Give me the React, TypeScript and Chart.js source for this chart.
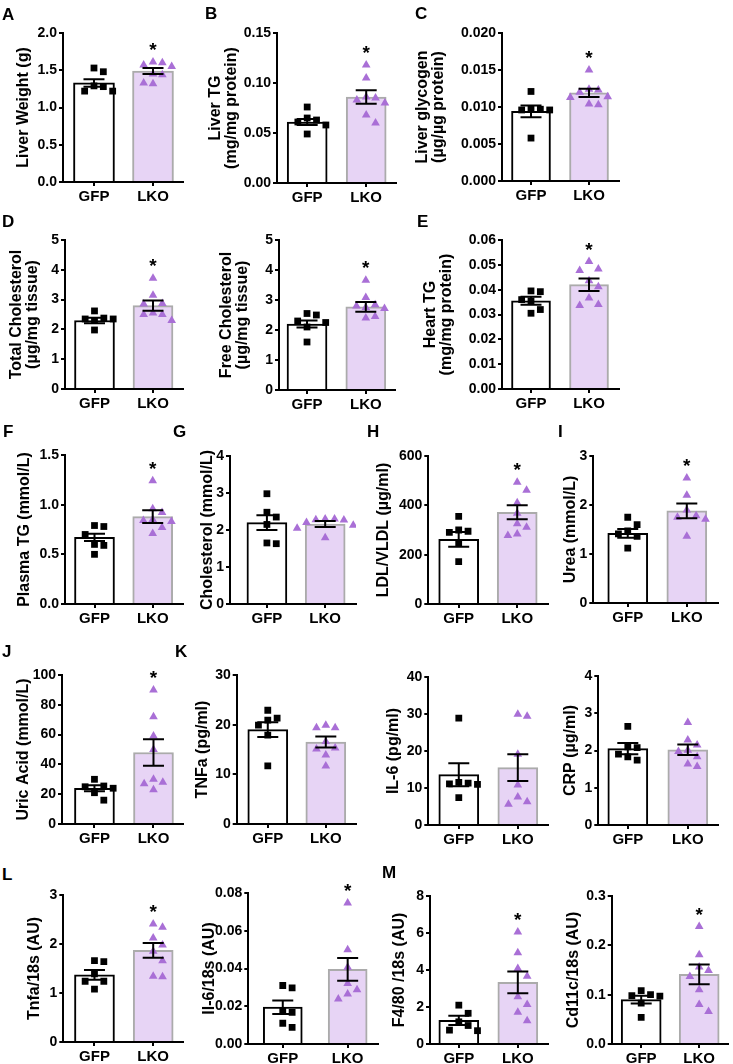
import React, { useEffect, useRef } from 'react';
import { Chart, registerables } from 'chart.js';
Chart.register(...registerables);

const groupLabels = ['GFP', 'LKO'];

// A – liver weight
const liverWeightGFP = [1.53, 1.48, 1.29, 1.28, 1.22, 1.22];
const liverWeightLKO = [1.61, 1.6, 1.57, 1.55, 1.45, 1.44, 1.33, 1.32];
const liverWeightMean = [1.33, 1.49];
const liverWeightSEM = [0.05, 0.04];
const liverWeightTicks = [0, 0.5, 1, 1.5, 2];
// B – liver TG
const liverTgGFP = [0.076, 0.065, 0.063, 0.061, 0.058, 0.049];
const liverTgLKO = [0.118, 0.105, 0.086, 0.085, 0.083, 0.08, 0.068, 0.06];
const liverTgMean = [0.061, 0.086];
const liverTgSEM = [0.003, 0.0068];
const liverTgTicks = [0, 0.05, 0.1, 0.15];
// C – liver glycogen
const glycogenGFP = [0.0121, 0.0098, 0.0097, 0.0096, 0.0096, 0.0058];
const glycogenLKO = [0.015, 0.0124, 0.0123, 0.012, 0.0114, 0.0113, 0.0104, 0.0103];
const glycogenMean = [0.0094, 0.0119];
const glycogenSEM = [0.0008, 0.00056];
const glycogenTicks = [0, 0.005, 0.01, 0.015, 0.02];
// D – total cholesterol
const totalCholGFP = [2.62, 2.38, 2.35, 2.35, 2.3, 1.98];
const totalCholLKO = [3.72, 3.15, 2.87, 2.85, 2.55, 2.5, 2.5, 2.3];
const totalCholMean = [2.3, 2.8];
const totalCholSEM = [0.09, 0.17];
// D – free cholesterol
const freeCholGFP = [2.55, 2.5, 2.3, 2.25, 2.1, 1.6];
const freeCholLKO = [3.66, 3.08, 2.84, 2.8, 2.75, 2.72, 2.45, 2.4];
const freeCholMean = [2.2, 2.77];
const freeCholSEM = [0.12, 0.16];
const cholTissueTicks = [0, 1, 2, 3, 4, 5];
// E – heart TG
const heartTgGFP = [0.0395, 0.0392, 0.036, 0.0355, 0.032, 0.0305];
const heartTgLKO = [0.0513, 0.0483, 0.0477, 0.0436, 0.0412, 0.0366, 0.034, 0.0336];
const heartTgMean = [0.0355, 0.042];
const heartTgSEM = [0.0016, 0.0025];
const heartTgTicks = [0, 0.01, 0.02, 0.03, 0.04, 0.05, 0.06];
// F – plasma TG
const plasmaTgGFP = [0.79, 0.78, 0.7, 0.6, 0.59, 0.5];
const plasmaTgLKO = [1.24, 0.96, 0.92, 0.85, 0.84, 0.83, 0.77, 0.71];
const plasmaTgMean = [0.67, 0.88];
const plasmaTgSEM = [0.037, 0.065];
const plasmaTgTicks = [0, 0.5, 1, 1.5];
// G – cholesterol
const plasmaCholGFP = [2.98, 2.48, 2.35, 2.15, 1.65, 1.63];
const plasmaCholLKO = [2.3, 2.3, 2.28, 2.27, 2.2, 2.13, 2.05, 1.79];
const plasmaCholMean = [2.2, 2.16];
const plasmaCholSEM = [0.2, 0.08];
const plasmaCholTicks = [0, 1, 2, 3, 4];
// H – LDL/VLDL
const ldlGFP = [355, 300, 295, 290, 245, 172];
const ldlLKO = [494, 461, 410, 368, 325, 311, 284, 278];
const ldlMean = [262, 372];
const ldlSEM = [30, 28];
const ldlTicks = [0, 200, 400, 600];
// I – urea
const ureaGFP = [1.75, 1.6, 1.47, 1.41, 1.36, 1.12];
const ureaLKO = [2.55, 2.2, 1.9, 1.78, 1.75, 1.71, 1.36];
const ureaMean = [1.42, 1.88];
const ureaSEM = [0.09, 0.15];
const ureaTicks = [0, 1, 2, 3];
// J – uric acid
const uricGFP = [30, 25.5, 25, 24, 21, 16];
const uricLKO = [90, 72, 59, 50, 30, 28, 27, 23];
const uricMean = [24, 48];
const uricSEM = [2, 8.9];
const uricTicks = [0, 20, 40, 60, 80, 100];
// K – TNFa
const tnfGFP = [22.9, 21.3, 20.9, 19.9, 17.9, 11.7];
const tnfLKO = [19.9, 19.4, 19.4, 16.6, 15.3, 15.1, 13.9, 11.7];
const tnfMean = [19, 16.5];
const tnfSEM = [1.5, 1.1];
const tnfTicks = [0, 10, 20, 30];
// K – IL-6
const il6GFP = [28.9, 11.5, 11.3, 11.1, 11, 7.4];
const il6LKO = [29.9, 29.4, 19.1, 10.8, 7.6, 6.3, 5.6];
const il6Mean = [13.6, 15.5];
const il6SEM = [3.1, 3.6];
const il6Ticks = [0, 10, 20, 30, 40];
// K – CRP
const crpGFP = [2.65, 2.1, 2.08, 1.9, 1.83, 1.74];
const crpLKO = [2.75, 2.28, 2.15, 2.01, 1.97, 1.83, 1.64, 1.57];
const crpMean = [2.05, 2.02];
const crpSEM = [0.15, 0.14];
const crpTicks = [0, 1, 2, 3, 4];
// L – Tnfa/18s
const tnfaMrnaGFP = [1.66, 1.64, 1.39, 1.24, 1.24, 1.08];
const tnfaMrnaLKO = [2.41, 2.34, 2.12, 1.98, 1.85, 1.66, 1.34, 1.33];
const tnfaMrnaMean = [1.37, 1.87];
const tnfaMrnaSEM = [0.1, 0.15];
const tnfaMrnaTicks = [0, 1, 2, 3];
// L – Il-6/18s
const il6MrnaGFP = [0.031, 0.0297, 0.0177, 0.0168, 0.011, 0.0088];
const il6MrnaLKO = [0.0747, 0.0499, 0.0407, 0.032, 0.0287, 0.0265, 0.0239];
const il6MrnaMean = [0.0195, 0.0395];
const il6MrnaSEM = [0.0036, 0.006];
const il6MrnaTicks = [0, 0.02, 0.04, 0.06, 0.08];
// M – F4/80
const f480GFP = [2.1, 1.66, 1.2, 1.0, 0.75, 0.72];
const f480LKO = [6.06, 4.93, 4.08, 3.66, 2.56, 2.13, 1.71, 1.26];
const f480Mean = [1.28, 3.33];
const f480SEM = [0.25, 0.59];
const f480Ticks = [0, 2, 4, 6, 8];
// M – Cd11c
const cd11cGFP = [0.108, 0.1, 0.098, 0.097, 0.083, 0.054];
const cd11cLKO = [0.238, 0.181, 0.156, 0.149, 0.137, 0.11, 0.08, 0.066];
const cd11cMean = [0.09, 0.141];
const cd11cSEM = [0.0077, 0.02];
const cd11cTicks = [0, 0.1, 0.2, 0.3];

const FONT = "'Liberation Sans', Arial, Helvetica, sans-serif";
const LKO_FILL = '#E7D4F5';
const LKO_BORDER = '#ABABAB';
const LKO_POINT = '#A96FD6';

type Geo = { axisX: number; top: number; zero: number; c0: number; c1: number; end: number; bw: number; titleX: number };
type Panel = {
  key: string; title: string | string[]; gfp: number[]; lko: number[]; mean: number[]; sem: number[];
  ticks: number[]; dec: number; sig: boolean; geo: Geo;
};

const panels: Panel[] = [
  { key: 'A', title: 'Liver Weight (g)', gfp: liverWeightGFP, lko: liverWeightLKO, mean: liverWeightMean, sem: liverWeightSEM, ticks: liverWeightTicks, dec: 1, sig: true,
    geo: { axisX: 63, top: 33, zero: 182, c0: 94.5, c1: 154.5, end: 185, bw: 41, titleX: 24 } },
  { key: 'B', title: ['Liver TG', '(mg/mg protein)'], gfp: liverTgGFP, lko: liverTgLKO, mean: liverTgMean, sem: liverTgSEM, ticks: liverTgTicks, dec: 2, sig: true,
    geo: { axisX: 277, top: 32.5, zero: 182, c0: 307.7, c1: 367.7, end: 398, bw: 40, titleX: 216 } },
  { key: 'C', title: ['Liver glycogen', '(µg/µg protein)'], gfp: glycogenGFP, lko: glycogenLKO, mean: glycogenMean, sem: glycogenSEM, ticks: glycogenTicks, dec: 3, sig: true,
    geo: { axisX: 502, top: 33, zero: 181, c0: 531.5, c1: 590.5, end: 621, bw: 39, titleX: 423 } },
  { key: 'Dt', title: ['Total Cholesterol', '(µg/mg tissue)'], gfp: totalCholGFP, lko: totalCholLKO, mean: totalCholMean, sem: totalCholSEM, ticks: cholTissueTicks, dec: 0, sig: true,
    geo: { axisX: 65, top: 239.5, zero: 388.5, c0: 95, c1: 154.5, end: 185, bw: 40, titleX: 17 } },
  { key: 'Df', title: ['Free Cholesterol', '(µg/mg tissue)'], gfp: freeCholGFP, lko: freeCholLKO, mean: freeCholMean, sem: freeCholSEM, ticks: cholTissueTicks, dec: 0, sig: true,
    geo: { axisX: 279, top: 239.5, zero: 389, c0: 307.5, c1: 367.3, end: 397, bw: 40, titleX: 227 } },
  { key: 'E', title: ['Heart TG', '(mg/mg protein)'], gfp: heartTgGFP, lko: heartTgLKO, mean: heartTgMean, sem: heartTgSEM, ticks: heartTgTicks, dec: 2, sig: true,
    geo: { axisX: 502, top: 239.5, zero: 388.5, c0: 531.5, c1: 590.5, end: 621, bw: 39, titleX: 431 } },
  { key: 'F', title: 'Plasma TG (mmol/L)', gfp: plasmaTgGFP, lko: plasmaTgLKO, mean: plasmaTgMean, sem: plasmaTgSEM, ticks: plasmaTgTicks, dec: 1, sig: true,
    geo: { axisX: 65, top: 454.5, zero: 603.5, c0: 95, c1: 154.2, end: 185, bw: 40, titleX: 25 } },
  { key: 'G', title: 'Cholesterol (mmol/L)', gfp: plasmaCholGFP, lko: plasmaCholLKO, mean: plasmaCholMean, sem: plasmaCholSEM, ticks: plasmaCholTicks, dec: 0, sig: false,
    geo: { axisX: 230, top: 456, zero: 603.5, c0: 267.5, c1: 326.7, end: 358, bw: 40, titleX: 208 } },
  { key: 'H', title: 'LDL/VLDL (µg/ml)', gfp: ldlGFP, lko: ldlLKO, mean: ldlMean, sem: ldlSEM, ticks: ldlTicks, dec: 0, sig: true,
    geo: { axisX: 428.3, top: 455.7, zero: 603.3, c0: 459.2, c1: 518.7, end: 550, bw: 40, titleX: 384 } },
  { key: 'I', title: 'Urea (mmol/L)', gfp: ureaGFP, lko: ureaLKO, mean: ureaMean, sem: ureaSEM, ticks: ureaTicks, dec: 0, sig: true,
    geo: { axisX: 593.3, top: 456, zero: 603.3, c0: 628.3, c1: 688.3, end: 720, bw: 40, titleX: 571 } },
  { key: 'J', title: 'Uric Acid (mmol/L)', gfp: uricGFP, lko: uricLKO, mean: uricMean, sem: uricSEM, ticks: uricTicks, dec: 0, sig: true,
    geo: { axisX: 62, top: 675, zero: 824, c0: 95, c1: 155, end: 185, bw: 40, titleX: 24 } },
  { key: 'K1', title: 'TNFa (pg/ml)', gfp: tnfGFP, lko: tnfLKO, mean: tnfMean, sem: tnfSEM, ticks: tnfTicks, dec: 0, sig: false,
    geo: { axisX: 236.7, top: 675, zero: 824, c0: 268.3, c1: 327.3, end: 358, bw: 40, titleX: 203 } },
  { key: 'K2', title: 'IL-6 (pg/ml)', gfp: il6GFP, lko: il6LKO, mean: il6Mean, sem: il6SEM, ticks: il6Ticks, dec: 0, sig: false,
    geo: { axisX: 428.3, top: 676.7, zero: 825, c0: 459.3, c1: 519.3, end: 550, bw: 40, titleX: 394 } },
  { key: 'K3', title: 'CRP (µg/ml)', gfp: crpGFP, lko: crpLKO, mean: crpMean, sem: crpSEM, ticks: crpTicks, dec: 0, sig: false,
    geo: { axisX: 598.3, top: 676, zero: 825, c0: 628.3, c1: 689.3, end: 720, bw: 40, titleX: 571 } },
  { key: 'L1', title: 'Tnfa/18s (AU)', gfp: tnfaMrnaGFP, lko: tnfaMrnaLKO, mean: tnfaMrnaMean, sem: tnfaMrnaSEM, ticks: tnfaMrnaTicks, dec: 0, sig: true,
    geo: { axisX: 63.3, top: 895, zero: 1042.3, c0: 95, c1: 154.7, end: 185, bw: 40, titleX: 35 } },
  { key: 'L2', title: 'Il-6/18s (AU)', gfp: il6MrnaGFP, lko: il6MrnaLKO, mean: il6MrnaMean, sem: il6MrnaSEM, ticks: il6MrnaTicks, dec: 2, sig: true,
    geo: { axisX: 248.3, top: 892.7, zero: 1043.3, c0: 283.3, c1: 349.2, end: 380, bw: 39, titleX: 210 } },
  { key: 'M1', title: 'F4/80 /18s (AU)', gfp: f480GFP, lko: f480LKO, mean: f480Mean, sem: f480SEM, ticks: f480Ticks, dec: 0, sig: true,
    geo: { axisX: 430, top: 895.7, zero: 1043.3, c0: 459.3, c1: 519.3, end: 550, bw: 40, titleX: 400 } },
  { key: 'M2', title: 'Cd11c/18s (AU)', gfp: cd11cGFP, lko: cd11cLKO, mean: cd11cMean, sem: cd11cSEM, ticks: cd11cTicks, dec: 1, sig: true,
    geo: { axisX: 611.7, top: 895.7, zero: 1043.3, c0: 641.7, c1: 700.7, end: 730, bw: 40, titleX: 574 } },
];

const panelLetters: { t: string; x: number; y: number }[] = [
  { t: 'A', x: 2, y: 8 }, { t: 'B', x: 205, y: 7 }, { t: 'C', x: 415, y: 7 },
  { t: 'D', x: 2, y: 215 }, { t: 'E', x: 417, y: 215 },
  { t: 'F', x: 3, y: 425 }, { t: 'G', x: 173, y: 425 }, { t: 'H', x: 367, y: 425 }, { t: 'I', x: 558, y: 425 },
  { t: 'J', x: 2, y: 645 }, { t: 'K', x: 175, y: 645 },
  { t: 'L', x: 2, y: 868 }, { t: 'M', x: 382, y: 866 },
];

// deterministic swarm layout (pixel space) so that points do not overlap
function swarm(values: number[], pxPerY: number, pxPerX: number, size: number): number[] {
  const order = values.map((_, i) => i).sort((a, b) => values[b] - values[a]);
  const placed: { x: number; y: number }[] = [];
  const offs = new Array(values.length).fill(0);
  for (const i of order) {
    const y = values[i] * pxPerY;
    for (let k = 0; k < 30; k++) {
      const step = Math.ceil(k / 2) * (k % 2 === 1 ? 1 : -1);
      const x = step * size;
      if (placed.every((p) => Math.hypot(p.x - x, p.y - y) >= size)) {
        offs[i] = x / pxPerX;
        placed.push({ x, y });
        break;
      }
    }
  }
  return offs;
}

const PAD_TOP = 16;
const PAD_RIGHT = 3;
const X_H = 30;

function PanelChart({ p }: { p: Panel }) {
  const ref = useRef<HTMLCanvasElement>(null);
  const g = p.geo;
  const left = g.titleX - 14;
  const top = g.top - PAD_TOP;
  const width = Math.round(g.end + PAD_RIGHT - left);
  const height = Math.round(g.zero + X_H - top);

  useEffect(() => {
    const span = g.c1 - g.c0;
    const yMax = p.ticks[p.ticks.length - 1];
    const pxPerY = (g.zero - g.top) / yMax;
    const jg = swarm(p.gfp, pxPerY, span, 9.5);
    const jl = swarm(p.lko, pxPerY, span, 9.5);
    const overlay = {
      id: 'overlay' + p.key,
      afterDatasetsDraw(chart: any) {
        const ctx = chart.ctx;
        const xs = chart.scales.x;
        const ys = chart.scales.y;
        ctx.save();
        ctx.strokeStyle = '#000';
        ctx.lineWidth = 2;
        for (let i = 0; i < 2; i++) {
          const x = xs.getPixelForValue(i);
          const yt = ys.getPixelForValue(p.mean[i] + p.sem[i]);
          const yb = ys.getPixelForValue(p.mean[i] - p.sem[i]);
          ctx.beginPath();
          ctx.moveTo(x, yt); ctx.lineTo(x, yb);
          ctx.moveTo(x - 10.5, yt); ctx.lineTo(x + 10.5, yt);
          ctx.moveTo(x - 10.5, yb); ctx.lineTo(x + 10.5, yb);
          ctx.stroke();
        }
        if (p.sig) {
          const x = xs.getPixelForValue(1);
          const y = ys.getPixelForValue(Math.max(...p.lko)) - 6;
          ctx.fillStyle = '#000';
          ctx.font = `bold 19px ${FONT}`;
          ctx.textAlign = 'center';
          ctx.textBaseline = 'alphabetic';
          ctx.fillText('*', x, y);
        }
        ctx.restore();
      },
    };
    const axisGrid = { display: true, offset: false, drawOnChartArea: false, drawTicks: true, tickLength: 4, color: '#000', lineWidth: 2 };
    const axisBorder = { display: true, color: '#000', width: 2 };
    const chart = new Chart(ref.current as HTMLCanvasElement, {
      type: 'bar',
      data: {
        datasets: [
          {
            type: 'bar',
            data: [{ x: 0, y: p.mean[0] }, { x: 1, y: p.mean[1] }],
            backgroundColor: ['#FFFFFF', LKO_FILL],
            borderColor: ['#000000', LKO_BORDER],
            borderWidth: 2,
            borderSkipped: 'start',
            barThickness: g.bw,
            order: 3,
          } as any,
          {
            type: 'scatter',
            data: p.gfp.map((v, i) => ({ x: jg[i], y: v })),
            pointStyle: 'rect',
            pointRadius: 4.8,
            backgroundColor: '#000',
            borderColor: '#000',
            borderWidth: 0,
            order: 1,
          } as any,
          {
            type: 'scatter',
            data: p.lko.map((v, i) => ({ x: 1 + jl[i], y: v })),
            pointStyle: 'triangle',
            pointRadius: 5,
            backgroundColor: LKO_POINT,
            borderColor: LKO_POINT,
            borderWidth: 0,
            order: 1,
          } as any,
        ],
      },
      options: {
        responsive: false,
        animation: false,
        devicePixelRatio: 1,
        events: [],
        layout: { padding: { top: PAD_TOP, right: PAD_RIGHT, left: 0, bottom: 0 } },
        plugins: { legend: { display: false }, tooltip: { enabled: false } },
        scales: {
          x: {
            type: 'linear',
            offset: false,
            bounds: 'data',
            z: 1,
            min: -(g.c0 - g.axisX) / span,
            max: 1 + (g.end - g.c1) / span,
            afterBuildTicks: (s: any) => { s.ticks = [{ value: 0 }, { value: 1 }]; },
            afterFit: (s: any) => { s.height = X_H; },
            ticks: {
              callback: (v: any) => groupLabels[Math.round(Number(v))] ?? '',
              font: { family: FONT, size: 15, weight: 'bold' },
              color: '#000', padding: 2, maxRotation: 0, autoSkip: false,
            },
            grid: axisGrid,
            border: axisBorder,
          },
          y: {
            type: 'linear',
            min: 0,
            max: yMax,
            z: 1,
            afterBuildTicks: (s: any) => { s.ticks = p.ticks.map((v) => ({ value: v })); },
            afterFit: (s: any) => { s.width = g.axisX - left; },
            ticks: {
              callback: (v: any) => Number(v).toFixed(p.dec),
              font: { family: FONT, size: 14, weight: 'bold' },
              color: '#000', padding: 2,
            },
            grid: axisGrid,
            border: axisBorder,
            title: {
              display: true,
              text: p.title,
              font: { family: FONT, size: 16, weight: 'bold', lineHeight: 1 },
              color: '#000',
              padding: { top: 6, bottom: 0 },
            },
          },
        },
      } as any,
      plugins: [overlay],
    });
    return () => chart.destroy();
  }, []);

  return (
    <canvas
      ref={ref}
      width={width}
      height={height}
      style={{ position: 'absolute', left, top, width, height }}
    />
  );
}

export default function App() {
  return (
    <div style={{ position: 'absolute', left: 0, top: 0, width: 733, height: 1064, background: '#fff', overflow: 'hidden' }}>
      {panels.map((p) => <PanelChart key={p.key} p={p} />)}
      {panelLetters.map((l) => (
        <div key={l.t} style={{ position: 'absolute', left: l.x, top: l.y - 2, fontFamily: FONT, fontWeight: 'bold', fontSize: 17, lineHeight: 1, color: '#000' }}>
          {l.t}
        </div>
      ))}
    </div>
  );
}
